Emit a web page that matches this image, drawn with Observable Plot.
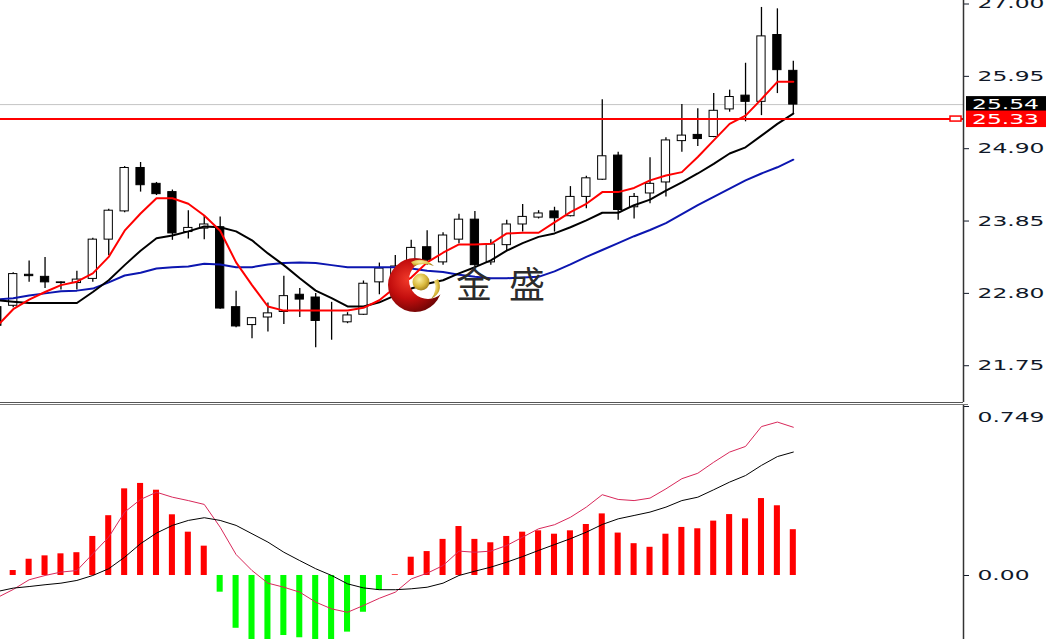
<!DOCTYPE html>
<html><head><meta charset="utf-8">
<script src="https://cdn.jsdelivr.net/npm/d3@7"></script>
<script src="https://cdn.jsdelivr.net/npm/@observablehq/plot@0.6"></script>
<style>
html,body{margin:0;padding:0;background:#fff;}
#wrap{position:relative;width:1046px;height:639px;overflow:hidden;background:#fff;}
#wrap svg{display:block;}
.sep{height:1px;}
#logo{position:absolute;left:0;top:0;pointer-events:none;}
</style></head><body>
<div id="wrap">
  <div id="main"></div>
  <div class="sep" style="width:963px;background:#555"></div>
  <div class="sep" style="width:963px;background:#fff"></div>
  <div class="sep" style="width:968px;background:#777"></div>
  <div id="macd"></div>
  <svg id="logo" width="1046" height="639">
    <defs>
      <radialGradient id="rg" cx="38%" cy="40%" r="65%">
        <stop offset="0" stop-color="#f23a2a"/>
        <stop offset="0.55" stop-color="#c20d0d"/>
        <stop offset="1" stop-color="#6e0505"/>
      </radialGradient>
      <radialGradient id="gg" cx="40%" cy="35%" r="70%">
        <stop offset="0" stop-color="#fbf0a0"/>
        <stop offset="0.6" stop-color="#d9b83c"/>
        <stop offset="1" stop-color="#9c7a18"/>
      </radialGradient>
      <mask id="cm">
        <rect x="380" y="250" width="80" height="80" fill="#fff"/>
        <circle cx="428" cy="280" r="19" fill="#000"/>
      </mask>
    </defs>
    <circle cx="415" cy="285" r="27" fill="url(#rg)" mask="url(#cm)"/>
    <circle cx="421" cy="282" r="8.5" fill="url(#gg)"/>
    <path d="M411 262 Q423 256 434 266 Q424 262 414 266 Z" fill="url(#gg)"/>
    <path d="M438 279 Q444 292 431 299 Q438 290 434 281 Z" fill="url(#gg)"/>
    <text x="456" y="298" font-family="'Noto Sans CJK SC', sans-serif" font-size="36" letter-spacing="17" fill="#2b2b2b">金盛</text>
  </svg>
</div>
<script>
// candle index (-1 is the partly visible bar at the left edge)
const idx = d3.range(-1, 50);
const open  = [22.60,22.62,23.07,23.04,22.95,22.95,23.01,23.58,23.99,24.62,24.39,24.27,23.69,23.74,23.76,22.60,22.34,22.45,22.53,22.78,22.74,22.38,22.38,22.49,22.96,22.96,23.21,23.47,23.25,23.58,23.87,23.25,23.50,23.80,23.90,23.99,23.92,24.20,24.45,24.80,24.05,24.25,24.41,25.01,25.10,25.07,25.47,25.67,25.58,26.55,26.03];
const high  = [22.70,23.10,23.27,23.32,22.97,23.12,23.60,24.02,24.64,24.70,24.41,24.30,24.00,23.93,23.91,22.83,22.45,22.66,23.05,22.87,22.80,22.67,22.52,22.98,23.24,23.35,23.57,23.71,23.68,23.95,23.99,23.58,23.86,24.09,24.00,24.05,24.35,24.50,25.61,24.85,24.25,24.77,25.06,25.54,25.48,25.70,25.75,26.14,26.95,26.93,26.17];
const low   = [22.30,22.59,22.96,22.87,22.85,22.85,22.96,23.35,23.97,24.27,24.22,23.57,23.59,23.58,22.57,22.30,22.14,22.24,22.35,22.45,22.01,22.12,22.36,22.48,22.78,22.89,23.25,23.21,23.21,23.52,23.18,23.21,23.42,23.69,23.88,23.69,23.91,24.03,24.44,23.86,23.88,24.10,24.20,24.85,24.93,25.06,25.43,25.29,25.38,25.70,25.41];
const close = [22.33,23.08,23.05,22.96,22.96,23.00,23.58,24.00,24.62,24.37,24.24,23.67,23.75,23.80,22.58,22.32,22.44,22.51,22.76,22.71,22.40,22.38,22.48,22.94,23.16,23.19,23.46,23.28,23.64,23.87,23.21,23.51,23.80,23.91,23.96,23.89,24.20,24.47,24.79,24.01,24.20,24.39,25.02,25.09,25.04,25.45,25.65,25.58,26.53,26.04,25.54];
const ma5   = [22.33,22.57,22.71,22.82,22.92,22.97,23.09,23.33,23.71,23.96,24.18,24.18,24.10,23.93,23.71,23.25,22.92,22.61,22.55,22.55,22.55,22.55,22.55,22.59,22.70,22.89,23.03,23.25,23.39,23.51,23.51,23.52,23.67,23.68,23.68,23.83,23.98,24.10,24.27,24.27,24.33,24.44,24.51,24.56,24.78,25.02,25.26,25.38,25.62,25.87,25.87];
const ma10  = [22.70,22.68,22.66,22.66,22.66,22.66,22.82,22.99,23.21,23.42,23.60,23.64,23.70,23.77,23.76,23.70,23.57,23.38,23.21,23.02,22.84,22.73,22.61,22.61,22.67,22.77,22.87,22.94,22.99,23.09,23.18,23.28,23.42,23.53,23.62,23.67,23.76,23.86,23.97,23.97,24.08,24.16,24.29,24.41,24.54,24.68,24.83,24.92,25.09,25.26,25.41];
const ma30  = [22.71,22.73,22.77,22.80,22.83,22.84,22.87,22.96,23.06,23.10,23.16,23.18,23.19,23.23,23.22,23.18,23.18,23.22,23.24,23.25,23.24,23.21,23.18,23.18,23.18,23.18,23.16,23.13,23.11,23.07,23.04,23.02,23.02,23.03,23.04,23.12,23.22,23.33,23.43,23.53,23.63,23.72,23.82,23.95,24.08,24.20,24.32,24.44,24.54,24.63,24.74];
// MACD panel
const macdHist   = [-0.052,0.022,0.072,0.087,0.096,0.101,0.173,0.265,0.384,0.408,0.378,0.269,0.192,0.130,-0.074,-0.234,-0.30,-0.30,-0.266,-0.276,-0.30,-0.29,-0.251,-0.163,-0.066,0.003,0.081,0.106,0.160,0.217,0.160,0.145,0.173,0.192,0.198,0.183,0.198,0.226,0.273,0.188,0.141,0.125,0.183,0.213,0.207,0.241,0.270,0.251,0.341,0.309,0.203];
const macdLine   = [-0.098,-0.062,-0.019,0.000,0.015,0.022,0.096,0.170,0.281,0.337,0.369,0.347,0.332,0.315,0.214,0.093,0.022,-0.034,-0.052,-0.074,-0.118,-0.148,-0.163,-0.133,-0.101,-0.074,-0.015,0.010,0.044,0.108,0.103,0.108,0.133,0.170,0.207,0.225,0.258,0.303,0.358,0.337,0.332,0.343,0.384,0.429,0.453,0.502,0.547,0.572,0.660,0.680,0.657];
const signalLine = [-0.071,-0.056,-0.049,-0.041,-0.034,-0.022,0.000,0.030,0.081,0.141,0.188,0.222,0.244,0.256,0.244,0.222,0.185,0.148,0.103,0.066,0.030,0.000,-0.037,-0.055,-0.063,-0.063,-0.059,-0.052,-0.034,0.000,0.019,0.037,0.059,0.084,0.111,0.137,0.163,0.192,0.226,0.251,0.266,0.281,0.303,0.332,0.347,0.380,0.414,0.443,0.488,0.527,0.547];
const priceTicks = [27.00, 25.95, 24.90, 23.85, 22.80, 21.75];
const macdTicks = [0.749, 0];
const lastPrice = 25.54, levelPrice = 25.33;

const xDomain = [-0.798, 59.69];
const bull = idx.map((t, k) => close[k] >= open[k]);
const axisColor = "#101828";

const main = Plot.plot({
  width: 1046, height: 402, marginTop: 0, marginBottom: 0, marginLeft: 0, marginRight: 83,
  style: {background: "white", color: axisColor, fontFamily: "'DejaVu Sans', sans-serif", fontSize: "14px"},
  x: {domain: xDomain, axis: null},
  y: {domain: [21.2163, 27.0508], axis: "right", ticks: priceTicks, tickFormat: d => d.toFixed(2), tickSize: 5, tickPadding: 9, label: null},
  marks: [
    Plot.ruleY([lastPrice], {stroke: "#c4c4c4", strokeWidth: 1}),
    Plot.ruleX(idx, {x: idx, y1: low, y2: high, stroke: "#000", strokeWidth: 1.3}),
    Plot.rect(idx, {x1: idx.map(t => t - 0.26), x2: idx.map(t => t + 0.26), y1: open, y2: close,
      fill: bull.map(b => b ? "#fff" : "#000"), stroke: "#000", strokeWidth: 1}),
    Plot.lineY(ma30, {x: idx, stroke: "#0c16b0", strokeWidth: 2}),
    Plot.lineY(ma10, {x: idx, stroke: "#000", strokeWidth: 2}),
    Plot.lineY(ma5, {x: idx, stroke: "#ff0000", strokeWidth: 2}),
    Plot.ruleY([levelPrice], {stroke: "#ff0000", strokeWidth: 2}),
    Plot.ruleX([xDomain[1]], {stroke: "#333", strokeWidth: 1.5})
  ]
});
document.getElementById("main").appendChild(main);

const macd = Plot.plot({
  width: 1046, height: 234, marginTop: 0, marginBottom: 0, marginLeft: 0, marginRight: 83,
  style: {background: "white", color: axisColor, fontFamily: "'DejaVu Sans', sans-serif", fontSize: "14px"},
  x: {domain: xDomain, axis: null},
  y: {domain: [-0.2837, 0.7534], axis: "right", ticks: macdTicks, tickFormat: d => d === 0 ? "0.00" : d.toFixed(3), tickSize: 5, tickPadding: 9, label: null},
  marks: [
    Plot.rect(idx, {x1: idx.map(t => t - 0.19), x2: idx.map(t => t + 0.19), y1: idx.map(() => 0), y2: macdHist,
      fill: macdHist.map(v => v >= 0 ? "#ff0000" : "#00ff00")}),
    Plot.lineY(macdLine, {x: idx, stroke: "#d8285a", strokeWidth: 1}),
    Plot.lineY(signalLine, {x: idx, stroke: "#000", strokeWidth: 1}),
    Plot.ruleX([xDomain[1]], {stroke: "#333", strokeWidth: 1.5})
  ]
});
document.getElementById("macd").appendChild(macd);

// price tags and level marker (positioned through the plot's own scales)
const ys = main.scale("y"), xs = main.scale("x");
const xr = xs.apply(xDomain[1]);
const g = d3.select(main).append("g").attr("text-anchor", "start");
[[lastPrice, "#000"], [levelPrice, "#ff0000"]].forEach(([v, c]) => {
  g.append("rect").attr("x", xr + 3).attr("y", ys.apply(v) - 8).attr("width", 90).attr("height", 16.5).attr("fill", c);
  g.append("text").attr("x", xr + 9).attr("y", ys.apply(v)).attr("dy", "0.36em").attr("fill", "#fff")
    .attr("text-anchor", "start").attr("font-size", 14).text(v.toFixed(2));
});
g.append("rect").attr("x", xr - 13).attr("y", ys.apply(levelPrice) - 2.5).attr("width", 11).attr("height", 5)
  .attr("fill", "#fff").attr("stroke", "#ff0000").attr("stroke-width", 1.5);

// stretch numeric labels like the original terminal font
function stretchLabels(svg) {
  svg.querySelectorAll("text").forEach(t => {
    const s = t.textContent.trim();
    if (/^\d+\.\d+$/.test(s)) {
      t.setAttribute("textLength", s.length === 5 ? 67 : 52);
      t.setAttribute("lengthAdjust", "spacingAndGlyphs");
      if (s === "0.749") t.setAttribute("transform", (t.getAttribute("transform") || "") + " translate(0,11)");
    }
  });
}
stretchLabels(main);
stretchLabels(macd);
</script>
</body></html>
